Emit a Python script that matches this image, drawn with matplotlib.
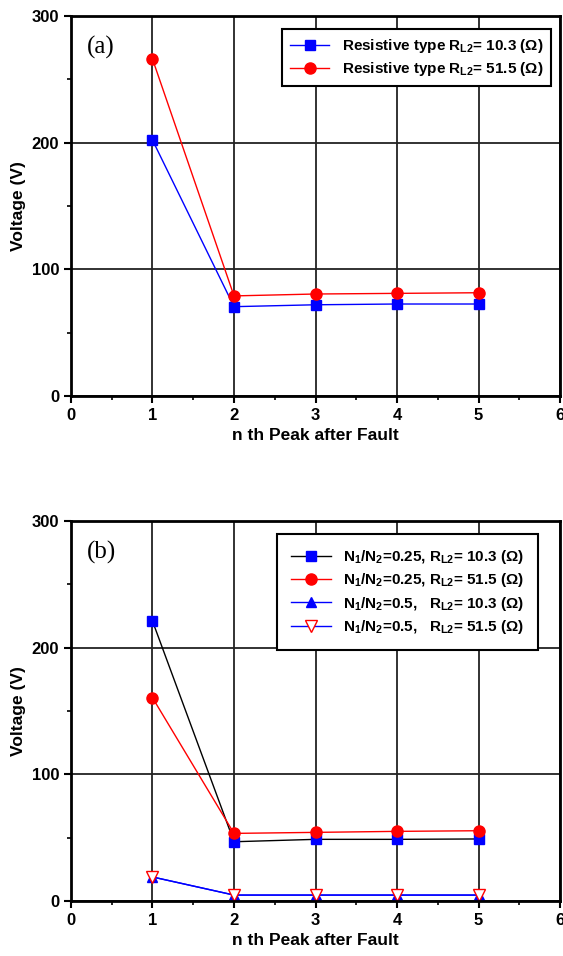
import matplotlib
matplotlib.use("Agg")
import matplotlib.pyplot as plt

plt.rcParams['font.family'] = ['Liberation Sans', 'DejaVu Sans']
plt.rcParams['font.weight'] = 'bold'
plt.rcParams['mathtext.fontset'] = 'custom'
plt.rcParams['mathtext.rm'] = 'Liberation Sans:bold'
plt.rcParams['mathtext.it'] = 'Liberation Sans:bold'
plt.rcParams['mathtext.bf'] = 'Liberation Sans:bold'

# peak number after the fault
peaks = [1, 2, 3, 4, 5]

# (a) resistive type
res_10 = [202, 70.5, 72, 72.6, 72.6]
res_51 = [266, 79, 80.5, 81, 81.5]

# (b) transformer ratio variants
n025_10 = [221, 46.8, 48.7, 48.7, 49]
n025_51 = [160.5, 53.4, 54.2, 55, 55.5]
n05_10 = [19, 4.7, 4.7, 4.7, 4.7]
n05_51 = [19, 4.7, 4.7, 4.7, 4.7]

labels_a = ["Resistive type R$_{L2}$= 10.3 (Ω)",
            "Resistive type R$_{L2}$= 51.5 (Ω)"]
labels_b = ["N$_1$/N$_2$=0.25, R$_{L2}$= 10.3 (Ω)",
            "N$_1$/N$_2$=0.25, R$_{L2}$= 51.5 (Ω)",
            "N$_1$/N$_2$=0.5,   R$_{L2}$= 10.3 (Ω)",
            "N$_1$/N$_2$=0.5,   R$_{L2}$= 51.5 (Ω)"]

fig = plt.figure(figsize=(5.63, 9.56), dpi=100)
ax1 = fig.add_axes([0.1261, 0.5858, 0.8686, 0.3975])
ax2 = fig.add_axes([0.1261, 0.0575, 0.8686, 0.3975])


def style(ax, tag):
    ax.set_xlim(0, 6)
    ax.set_ylim(0, 300)
    ax.set_xticks(range(0, 7))
    ax.set_yticks([0, 100, 200, 300])
    ax.set_xticks([0.5, 1.5, 2.5, 3.5, 4.5, 5.5], minor=True)
    ax.set_yticks([50, 150, 250], minor=True)
    ax.grid(True, which='major', color='#222222', linewidth=1.3)
    ax.set_axisbelow(True)
    for s in ax.spines.values():
        s.set_linewidth(2)
    ax.tick_params(which='major', direction='out', length=5, width=1.5,
                   labelsize=12, top=False, right=False)
    ax.tick_params(which='minor', direction='out', length=3, width=1.2,
                   top=False, right=False)
    for lab in ax.get_xticklabels() + ax.get_yticklabels():
        lab.set_fontweight('bold')
    ax.set_xlabel("n th Peak after Fault", fontsize=12.5, fontweight='bold', labelpad=4)
    ax.set_ylabel("Voltage (V)", fontsize=12.5, fontweight='bold', labelpad=4)
    ax.text(0.2, 275, tag, fontsize=18, family='Liberation Serif',
            fontweight='normal', va='center')


style(ax1, "(a)")
ax1.plot(peaks, res_10, '-s', color='blue', lw=1, ms=7, label=labels_a[0])
ax1.plot(peaks, res_51, '-o', color='red', lw=1, ms=8, label=labels_a[1])
leg = ax1.legend(loc='upper right', fontsize=11, fancybox=False, framealpha=1,
                 edgecolor='black', borderaxespad=0.5, handlelength=2.6,
                 borderpad=0.5, labelspacing=0.35, bbox_to_anchor=(0.997, 0.985))
leg.get_frame().set_linewidth(1.5)

style(ax2, "(b)")
ax2.plot(peaks, n025_10, '-s', color='black', mfc='blue', mec='blue', lw=1, ms=7,
         label=labels_b[0])
ax2.plot(peaks, n025_51, '-o', color='red', lw=1, ms=8, label=labels_b[1])
ax2.plot(peaks, n05_10, '-^', color='blue', lw=1, ms=7, label=labels_b[2])
ax2.plot(peaks, n05_51, '-v', color='blue', mfc='white', mec='red', lw=1, ms=8,
         label=labels_b[3])
leg = ax2.legend(loc='upper right', fontsize=11, fancybox=False, framealpha=1,
                 edgecolor='black', borderaxespad=0.5, handlelength=2.6,
                 borderpad=0.9, labelspacing=0.35, bbox_to_anchor=(0.97, 0.985))
leg.get_frame().set_linewidth(1.5)

fig.savefig("out.png", dpi=100)
